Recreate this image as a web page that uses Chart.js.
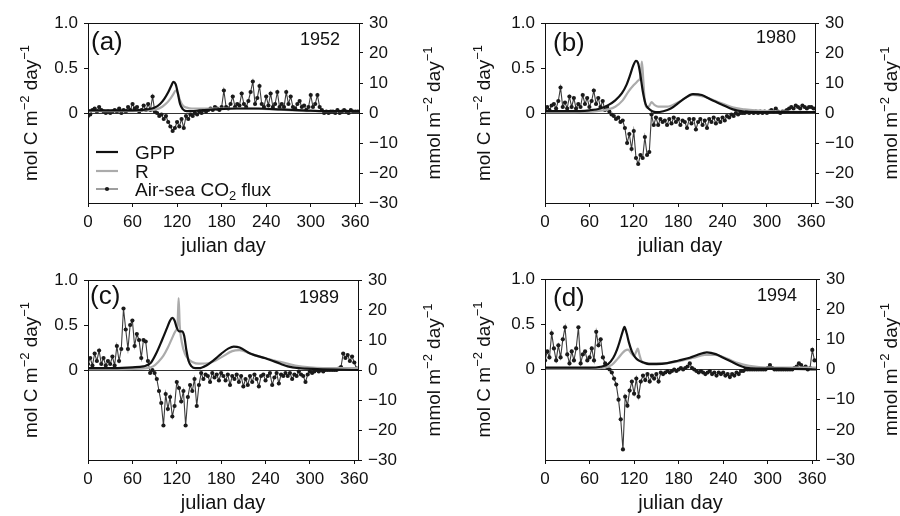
<!DOCTYPE html>
<html>
<head>
<meta charset="utf-8">
<script src="https://cdn.jsdelivr.net/npm/chart.js@4.4.0/dist/chart.umd.min.js"></script>
<style>
  html, body { margin: 0; padding: 0; background: #fff; }
  #wrap { position: relative; width: 900px; height: 516px; }
  #wrap canvas { position: absolute; }
</style>
</head>
<body>
<div id="wrap">
  <canvas id="panelA" width="450" height="258" style="left:0;top:0"></canvas>
  <canvas id="panelB" width="450" height="258" style="left:450px;top:0"></canvas>
  <canvas id="panelC" width="450" height="258" style="left:0;top:258px"></canvas>
  <canvas id="panelD" width="450" height="258" style="left:450px;top:258px"></canvas>
</div>
<script>
const FONT = "'Liberation Sans', Arial, sans-serif";

// axis ticks
const xTicks = [0, 60, 120, 180, 240, 300, 360];
const carbonTicks = [0, 0.5, 1];

// julian day of each flux sample (every 3rd day)
const fluxDays = [];
for (let d = 0; d <= 363; d += 3) fluxDays.push(d);

// ---- 1952 ----
const gppDaysA = [0, 30, 60, 80, 90, 97, 103, 108, 112, 115, 118, 121, 124, 128, 133, 140, 150, 170, 200, 230, 260, 290, 320, 365];
const gppA = [0.03, 0.03, 0.03, 0.04, 0.06, 0.1, 0.16, 0.23, 0.3, 0.345, 0.32, 0.22, 0.1, 0.04, 0.02, 0.02, 0.03, 0.04, 0.05, 0.05, 0.04, 0.03, 0.02, 0.02];
const rDaysA = [0, 40, 80, 92, 100, 106, 111, 115, 118, 121, 124, 128, 133, 140, 160, 200, 250, 300, 365];
const rA = [0.02, 0.02, 0.03, 0.04, 0.07, 0.11, 0.16, 0.21, 0.25, 0.22, 0.14, 0.08, 0.06, 0.05, 0.05, 0.05, 0.04, 0.02, 0.02];
const fluxA = [
  -1, -0.5, 1, 1.5, 0.5, 2, 1, 0.5, 0, 0.5,
  0, 0.5, 1, 0.5, 1.5, 0, 1, 0.5, 2, 1,
  3, 1.5, 2, 0.5, 1, 2.5, 1, 3, 1, 5.5,
  0.5, 0, -1, -0.5, -2, -1, -3, -4.5, -6, -5,
  -3, -4.5, -2, -5, -1, -2, -0.5, -1, 0, -0.5,
  0.5, 0, 1, 0.5, 1, 1.5, 1, 2, 1.5, 1,
  2, 7.5, 2, 1.5, 3, 5.5, 2, 3, 2.5, 6.5,
  3, 2, 4, 7, 10.5, 3, 5, 9, 3, 2,
  5.5, 2.5, 6.5, 2, 3, 7, 2, 3, 2, 7,
  3, 5.5, 2, 1.5, 3, 4, 2, 2.5, 1, 2,
  6, 2, 3, 6, 2, 1, 0, 0.5, 0, 0.5,
  0.5, 0, 1, 0, 0.5, 1, 0.5, 0, 1, 0.5,
  0.5, 0.5
];

// ---- 1980 ----
const gppDaysB = [0, 30, 60, 75, 86, 95, 104, 110, 115, 119, 123, 126, 129, 132, 136, 140, 145, 150, 160, 170, 185, 200, 212, 224, 240, 254, 265, 290, 365];
const gppB = [0.02, 0.02, 0.03, 0.05, 0.09, 0.14, 0.22, 0.31, 0.42, 0.52, 0.58, 0.55, 0.42, 0.25, 0.1, 0.05, 0.02, 0.01, 0.02, 0.05, 0.14, 0.21, 0.2, 0.15, 0.09, 0.04, 0.02, 0.01, 0.01];
const rDaysB = [0, 40, 70, 85, 95, 105, 113, 120, 126, 129, 131, 133, 135, 138, 141, 144, 148, 153, 165, 180, 200, 215, 235, 255, 270, 300, 365];
const rB = [0.01, 0.01, 0.02, 0.04, 0.07, 0.14, 0.24, 0.31, 0.36, 0.4, 0.57, 0.35, 0.12, 0.06, 0.08, 0.12, 0.09, 0.07, 0.07, 0.12, 0.2, 0.18, 0.12, 0.06, 0.04, 0.02, 0.01];
const fluxB = [
  1, 2, 1, 2.5, 3, 1.5, 4, 8.5, 2, 3.5,
  1.5, 5.5, 2, 5, 1.5, 3, 2, 6, 3, 5,
  2, 4, 7.5, 3, 5, 2, 4, 1, 2, 0.5,
  -0.5, -1, -2, -1.5, -3, -2.5, -5, -10, -7, -12,
  -6, -15, -17, -14, -15, -8, -14, -13, -0.5, -4,
  -1.5, -4, -2, -3, -2.5, -4, -2, -3.5, -1.5, -3,
  -2, -4, -2.5, -3, -5, -2, -3.5, -2, -5.5, -3,
  -2, -4, -2.5, -5, -2, -3, -1.5, -3.5, -2, -3,
  -1.5, -2.5, -1, -1.5, -0.5, -1, 0, -0.5, 0, 0,
  0, 0.5, 0, 0.5, 0, 0.5, 0, 0.5, 0, 0.5,
  0, 0.5, 1, 0.5, 1.5, 0.5, 0, 0.5, 0.5, 1,
  1.5, 2, 1.5, 2.5, 2, 1.5, 2.5, 2, 1.5, 2,
  2, 1.5
];

// ---- 1989 ----
const gppDaysC = [0, 30, 60, 75, 85, 92, 100, 107, 111, 114, 117, 120, 123, 127, 130, 133, 136, 140, 145, 150, 160, 170, 180, 190, 197, 205, 220, 240, 260, 270, 285, 310, 365];
const gppC = [0.02, 0.02, 0.03, 0.04, 0.08, 0.18, 0.33, 0.47, 0.55, 0.58, 0.55, 0.47, 0.43, 0.43, 0.38, 0.22, 0.1, 0.04, 0.02, 0.02, 0.05, 0.11, 0.18, 0.24, 0.26, 0.25, 0.18, 0.13, 0.07, 0.04, 0.02, 0.01, 0];
const rDaysC = [0, 40, 80, 88, 95, 102, 108, 114, 118, 121, 122.5, 124, 127, 131, 136, 141, 150, 165, 180, 195, 205, 220, 240, 260, 280, 300, 340, 365];
const rC = [0.01, 0.01, 0.02, 0.04, 0.09, 0.16, 0.25, 0.36, 0.43, 0.5, 0.8, 0.5, 0.3, 0.18, 0.12, 0.09, 0.07, 0.08, 0.14, 0.21, 0.22, 0.18, 0.13, 0.09, 0.05, 0.03, 0.02, 0.02];
const fluxC = [
  2, 4, 1.5, 5.5, 3, 6.5, 2, 4, 1.5, 3,
  2, 4.5, 1.5, 8, 3, 7, 20.5, 13.5, 7, 15,
  16.5, 8, 12, 10, 4, 10, 9.5, 3, -1, 0,
  -1, -3, -7, -11, -18.5, -8, -13, -9, -15.5, -12,
  -4, -6, -10.5, -7, -18.5, -9, -5, -7, -3, -12,
  -5, -1, -3, -1.5, -2, -4, -1, -2.5, -1.5, -3.5,
  -1, -2, -3.5, -1.5, -5, -2, -3, -1.5, -4, -2,
  -5.5, -3, -5, -2, -4, -1.5, -3, -5.5, -2, -1.5,
  -3.5, -2, -1, -5, -2.5, -1, -4.5, -1.5, -2, -1,
  -2, -1, -3, -1.5, -2, -0.5, -1.5, -2, -4, -1.5,
  -0.5, -1, -0.5, 0, -0.5, 0, -0.5, 0, 0, 0,
  0, 0, 0, 0.5, 1, 5.5, 4, 5, 3, 4.5,
  2.5, 0.5
];

// ---- 1994 ----
const gppDaysD = [0, 30, 60, 75, 85, 92, 97, 101, 105, 107, 110, 113, 117, 121, 126, 132, 140, 150, 165, 180, 195, 205, 218, 230, 240, 250, 260, 270, 285, 320, 365];
const gppD = [0.02, 0.02, 0.02, 0.03, 0.06, 0.13, 0.22, 0.32, 0.43, 0.47, 0.4, 0.3, 0.2, 0.14, 0.1, 0.08, 0.06, 0.06, 0.07, 0.1, 0.13, 0.16, 0.19, 0.17, 0.13, 0.09, 0.05, 0.02, 0.01, 0.01, 0];
const rDaysD = [0, 40, 80, 90, 98, 104, 108, 112, 116, 120, 123, 125, 127, 130, 134, 140, 160, 180, 200, 215, 230, 245, 260, 275, 300, 365];
const rD = [0.01, 0.01, 0.02, 0.05, 0.12, 0.18, 0.21, 0.22, 0.18, 0.15, 0.2, 0.23, 0.17, 0.09, 0.07, 0.07, 0.07, 0.09, 0.13, 0.16, 0.16, 0.12, 0.07, 0.04, 0.02, 0.02];
const fluxD = [
  3, 6, 4, 12, 7, 3, 8, 4, 10, 14,
  5, 2, 6, 3, 7, 14, 2, 5, 6, 3,
  4, 7, 3, 12.5, 8, 10, 4, 2, 0.5, 0,
  -1, -3, -5, -10, -16.5, -26.5, -9, -12, -7, -4,
  -8, -3, -9, -4, -2, -3.5, -1.5, -4, -2, -3,
  -1.5, -4, -1, -1.5, -1, -0.5, -1, -0.5, 0, -0.5,
  0, 0.5, 0, 0.5, 1, 2, 0.5, 0, -0.5, -1,
  -0.5, -1, -1.5, -1, -0.5, -1.5, -1, -2, -1, -1.5,
  -1, -2, -1.5, -2.5, -1.5, -2, -1, -1.5, -0.5, -0.5,
  0, 0, 0, 0, 0, 0, 0, 0, 0, 0,
  0.5, 1.5, 0.5, 0, 0, 0, 0, 0, 0, 0,
  0, 0, 0.5, 1, 2, 1.5, 0.5, 1, 0, 0.5,
  6.5, 3
];

const GPP_COLOR = '#111';
const R_COLOR = '#ababab';
const FLUX_LINE = '#3c3c3c';
const FLUX_DOT = '#1a1a1a';

const panels = [
  { id: 'panelA', tag: '(a)', year: '1952', gppDays: gppDaysA, gpp: gppA, rDays: rDaysA, r: rA, flux: fluxA,
    area: { left: 88, right: 359, top: 23, bottom: 203 }, tagX: 91, tagY: 43, yearY: 40, leftTitleX: 30, rightTitleX: 433, legend: true },
  { id: 'panelB', tag: '(b)', year: '1980', gppDays: gppDaysB, gpp: gppB, rDays: rDaysB, r: rB, flux: fluxB,
    area: { left: 95, right: 365, top: 23, bottom: 203 }, tagX: 103, tagY: 44, yearY: 38, leftTitleX: 33, rightTitleX: 440 },
  { id: 'panelC', tag: '(c)', year: '1989', gppDays: gppDaysC, gpp: gppC, rDays: rDaysC, r: rC, flux: fluxC,
    area: { left: 88, right: 358, top: 22, bottom: 202 }, tagX: 90, tagY: 39, yearY: 40, leftTitleX: 30, rightTitleX: 433 },
  { id: 'panelD', tag: '(d)', year: '1994', gppDays: gppDaysD, gpp: gppD, rDays: rDaysD, r: rD, flux: fluxD,
    area: { left: 95, right: 366, top: 21, bottom: 202 }, tagX: 103, tagY: 41, yearY: 38, leftTitleX: 33, rightTitleX: 440 }
];

const leftTitle = [{ t: 'mol C m' }, { t: '\u22122', s: 'sup' }, { t: ' day' }, { t: '\u22121', s: 'sup' }];
const rightTitle = [{ t: 'mmol m' }, { t: '\u22122', s: 'sup' }, { t: ' day' }, { t: '\u22121', s: 'sup' }];
const fluxLabel = [{ t: 'Air-sea CO' }, { t: '2', s: 'sub' }, { t: ' flux' }];

function font(size) { return size + 'px ' + FONT; }

// text with super/subscripts, y is the baseline
function runsWidth(ctx, runs, size) {
  let w = 0;
  runs.forEach(r => {
    ctx.font = font(r.s ? size * 0.68 : size);
    w += ctx.measureText(r.t).width;
  });
  return w;
}
function drawRuns(ctx, runs, x, y, size, align) {
  let cx = align === 'center' ? x - runsWidth(ctx, runs, size) / 2 : x;
  ctx.textAlign = 'left';
  ctx.textBaseline = 'alphabetic';
  runs.forEach(r => {
    ctx.font = font(r.s ? size * 0.68 : size);
    const dy = r.s === 'sup' ? -size * 0.42 : r.s === 'sub' ? size * 0.25 : 0;
    ctx.fillText(r.t, cx, y + dy);
    cx += ctx.measureText(r.t).width;
  });
}
function drawVertical(ctx, runs, x, cy, size) {
  ctx.save();
  ctx.translate(x, cy);
  ctx.rotate(-Math.PI / 2);
  drawRuns(ctx, runs, 0, size * 0.36, size, 'center');
  ctx.restore();
}

const annotations = {
  id: 'annotations',
  afterDraw(chart, args, opts) {
    const p = opts.panel;
    const ctx = chart.ctx;
    const a = chart.chartArea;
    const midY = (a.top + a.bottom) / 2;
    ctx.save();
    ctx.fillStyle = '#111';
    ctx.strokeStyle = '#111';
    // frame
    ctx.lineWidth = 1;
    ctx.strokeRect(Math.round(a.left) + 0.5, Math.round(a.top) + 0.5, Math.round(a.right - a.left), Math.round(a.bottom - a.top));
    // axis titles
    drawVertical(ctx, leftTitle, p.leftTitleX, midY, 19);
    drawVertical(ctx, rightTitle, p.rightTitleX, midY, 19);
    ctx.font = font(20);
    ctx.textAlign = 'center';
    ctx.textBaseline = 'middle';
    ctx.fillText('julian day', (a.left + a.right) / 2, a.bottom + 43);
    // panel tag and year
    ctx.font = font(26);
    ctx.textAlign = 'left';
    ctx.fillText(p.tag, p.tagX, p.tagY);
    ctx.font = font(18);
    ctx.textAlign = 'right';
    ctx.fillText(p.year, a.right - 19, p.yearY);
    // legend
    if (p.legend) {
      const rows = [
        { runs: [{ t: 'GPP' }], color: GPP_COLOR, width: 2.2, y: 152 },
        { runs: [{ t: 'R' }], color: R_COLOR, width: 2.2, y: 171 },
        { runs: fluxLabel, color: FLUX_LINE, width: 1, y: 189, dot: true }
      ];
      rows.forEach(row => {
        ctx.strokeStyle = row.color;
        ctx.lineWidth = row.width;
        ctx.beginPath();
        ctx.moveTo(96, row.y);
        ctx.lineTo(118, row.y);
        ctx.stroke();
        if (row.dot) {
          ctx.fillStyle = FLUX_DOT;
          ctx.beginPath();
          ctx.arc(107, row.y, 2.1, 0, Math.PI * 2);
          ctx.fill();
        }
        ctx.fillStyle = '#111';
        drawRuns(ctx, row.runs, 135, row.y + 6.5, 19, 'left');
      });
    }
    ctx.restore();
  }
};

function points(xs, ys) {
  return xs.map((x, i) => ({ x: x, y: ys[i] }));
}

function makePanel(p) {
  const canvas = document.getElementById(p.id);
  return new Chart(canvas.getContext('2d'), {
    type: 'line',
    data: {
      datasets: [
        { label: 'GPP', data: points(p.gppDays, p.gpp), yAxisID: 'yC', borderColor: GPP_COLOR, borderWidth: 2.2,
          pointRadius: 0, cubicInterpolationMode: 'monotone', order: 0 },
        { label: 'R', data: points(p.rDays, p.r), yAxisID: 'yC', borderColor: R_COLOR, borderWidth: 2.2,
          pointRadius: 0, cubicInterpolationMode: 'monotone', order: 1 },
        { label: 'Air-sea CO2 flux', data: points(fluxDays, p.flux), yAxisID: 'yF', borderColor: FLUX_LINE, borderWidth: 1.1,
          pointRadius: 2.1, pointBackgroundColor: FLUX_DOT, pointBorderWidth: 0, order: 2 }
      ]
    },
    options: {
      responsive: false,
      animation: false,
      devicePixelRatio: 1,
      layout: { padding: { top: p.area.top, left: 0, right: 0, bottom: 0 } },
      plugins: { legend: { display: false }, tooltip: { enabled: false }, annotations: { panel: p } },
      scales: {
        x: {
          type: 'linear', min: 0, max: 365,
          afterBuildTicks: s => { s.ticks = xTicks.map(v => ({ value: v })); },
          afterFit: s => { s.height = 258 - p.area.bottom; },
          grid: { drawOnChartArea: false, tickLength: 4, color: '#111' },
          border: { color: '#111', width: 1 },
          ticks: { color: '#111', font: { family: FONT, size: 17 }, padding: 5, maxRotation: 0 }
        },
        yC: {
          type: 'linear', position: 'left', min: -1, max: 1,
          afterBuildTicks: s => { s.ticks = carbonTicks.map(v => ({ value: v })); },
          afterFit: s => { s.width = p.area.left; },
          grid: {
            drawOnChartArea: true, tickLength: 4, tickColor: '#111', lineWidth: 1,
            color: c => (c.tick && c.tick.value === 0) ? '#333' : 'rgba(0,0,0,0)'
          },
          border: { color: '#111', width: 1 },
          ticks: { color: '#111', font: { family: FONT, size: 17 }, padding: 6,
            callback: v => v === 0 ? '0' : v.toFixed(1) }
        },
        yF: {
          type: 'linear', position: 'right', min: -30, max: 30,
          afterFit: s => { s.width = 450 - p.area.right; },
          grid: { drawOnChartArea: false, tickLength: 4, color: '#111' },
          border: { color: '#111', width: 1 },
          ticks: { stepSize: 10, color: '#111', font: { family: FONT, size: 17 }, padding: 6,
            callback: v => v < 0 ? '\u2212' + Math.abs(v) : String(v) }
        }
      }
    },
    plugins: [annotations]
  });
}

panels.forEach(makePanel);
</script>
</body>
</html>
